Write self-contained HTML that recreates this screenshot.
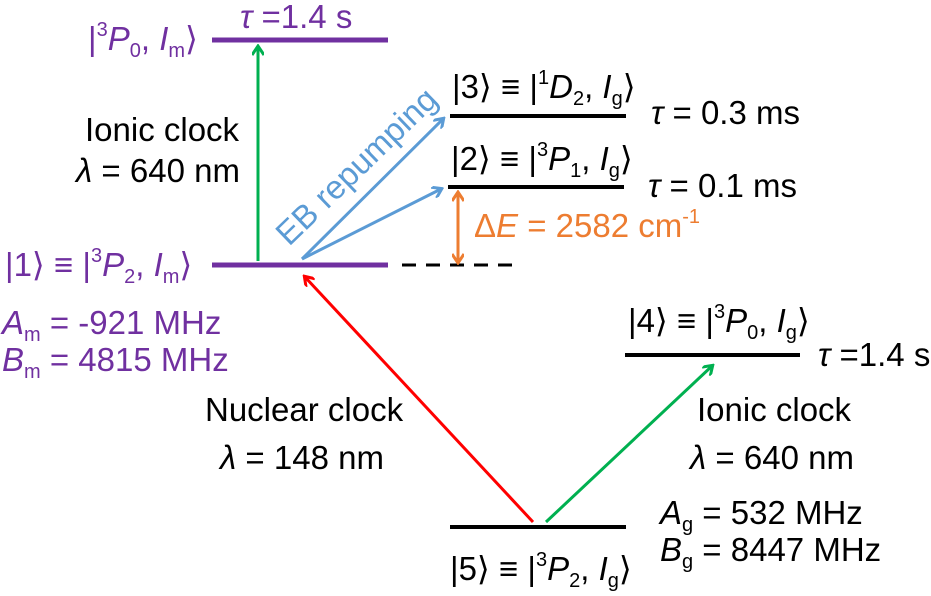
<!DOCTYPE html>
<html><head><meta charset="utf-8"><style>
html,body{margin:0;padding:0;background:#fff}
svg{display:block}
text{font-family:"Liberation Sans","DejaVu Sans",sans-serif;font-size:33px}
.p{fill:#7030a0}.k{fill:#000}.o{fill:#ed7d31}.b{fill:#5b9bd5}
.s{font-size:20px}
</style></head><body>
<svg width="931" height="596" viewBox="0 0 931 596" xmlns="http://www.w3.org/2000/svg">
<defs>
<marker id="ag" markerWidth="12" markerHeight="12" refX="9" refY="6" orient="auto" markerUnits="userSpaceOnUse"><path d="M1,0 L10,6 L1,12" fill="none" stroke="#00b050" stroke-width="3"/></marker>
<marker id="ab" markerWidth="12" markerHeight="12" refX="9" refY="6" orient="auto" markerUnits="userSpaceOnUse"><path d="M1,0 L10,6 L1,12" fill="none" stroke="#5b9bd5" stroke-width="3"/></marker>
<marker id="ar" markerWidth="12" markerHeight="12" refX="9" refY="6" orient="auto" markerUnits="userSpaceOnUse"><path d="M1,0 L10,6 L1,12" fill="none" stroke="#ff0000" stroke-width="3"/></marker>
<marker id="ao" markerWidth="12" markerHeight="12" refX="9" refY="6" orient="auto-start-reverse" markerUnits="userSpaceOnUse"><path d="M1,0 L10,6 L1,12" fill="none" stroke="#ed7d31" stroke-width="3"/></marker>
</defs>
<line x1="212" y1="40" x2="388" y2="40" stroke="#7030a0" stroke-width="5"/>
<line x1="212" y1="265" x2="388" y2="265" stroke="#7030a0" stroke-width="5"/>
<line x1="402" y1="265" x2="512" y2="265" stroke="#000" stroke-width="3" stroke-dasharray="14,10"/>
<line x1="450" y1="116" x2="626" y2="116" stroke="#000" stroke-width="4"/>
<line x1="448" y1="187" x2="624" y2="187" stroke="#000" stroke-width="4"/>
<line x1="625" y1="355" x2="800" y2="355" stroke="#000" stroke-width="4"/>
<line x1="450" y1="527" x2="626" y2="527" stroke="#000" stroke-width="4"/>
<line x1="258" y1="261" x2="258" y2="47" stroke="#00b050" stroke-width="3" marker-end="url(#ag)"/>
<line x1="302" y1="259" x2="443" y2="119" stroke="#5b9bd5" stroke-width="3" marker-end="url(#ab)"/>
<line x1="302" y1="259" x2="441" y2="189" stroke="#5b9bd5" stroke-width="3" marker-end="url(#ab)"/>
<line x1="458" y1="193" x2="458" y2="262" stroke="#ed7d31" stroke-width="3" marker-start="url(#ao)" marker-end="url(#ao)"/>
<line x1="533" y1="522" x2="305" y2="277" stroke="#ff0000" stroke-width="3" marker-end="url(#ar)"/>
<line x1="546" y1="522" x2="712" y2="366" stroke="#00b050" stroke-width="3" marker-end="url(#ag)"/>
<text class="p" x="240" y="28"><tspan font-style="italic">τ</tspan> =1.4 s</text>
<text class="p" x="88" y="50">|<tspan class="s" dy="-14">3</tspan><tspan font-style="italic" dy="14">P</tspan><tspan class="s" dy="7">0</tspan><tspan dy="-7">, </tspan><tspan font-style="italic">I</tspan><tspan class="s" dy="7">m</tspan><tspan dy="-7">⟩</tspan></text>
<text class="k" x="85" y="141">Ionic clock</text>
<text class="k" x="76" y="182"><tspan font-style="italic">λ</tspan> = 640 nm</text>
<text class="p" x="5" y="276">|1⟩ ≡ |<tspan class="s" dy="-14">3</tspan><tspan font-style="italic" dy="14">P</tspan><tspan class="s" dy="7">2</tspan><tspan dy="-7">, </tspan><tspan font-style="italic">I</tspan><tspan class="s" dy="7">m</tspan><tspan dy="-7">⟩</tspan></text>
<text class="p" x="2" y="334"><tspan font-style="italic">A</tspan><tspan class="s" dy="7">m</tspan><tspan dy="-7"> = -921 MHz</tspan></text>
<text class="p" x="2" y="371"><tspan font-style="italic">B</tspan><tspan class="s" dy="7">m</tspan><tspan dy="-7"> = 4815 MHz</tspan></text>
<text class="b" x="0" y="0" transform="translate(289,247) rotate(-44)">EB repumping</text>
<text class="k" x="452" y="98">|3⟩ ≡ |<tspan class="s" dy="-14">1</tspan><tspan font-style="italic" dy="14">D</tspan><tspan class="s" dy="7">2</tspan><tspan dy="-7">, </tspan><tspan font-style="italic">I</tspan><tspan class="s" dy="7">g</tspan><tspan dy="-7">⟩</tspan></text>
<text class="k" x="651" y="124"><tspan font-style="italic">τ</tspan> = 0.3 ms</text>
<text class="k" x="451" y="170">|2⟩ ≡ |<tspan class="s" dy="-14">3</tspan><tspan font-style="italic" dy="14">P</tspan><tspan class="s" dy="7">1</tspan><tspan dy="-7">, </tspan><tspan font-style="italic">I</tspan><tspan class="s" dy="7">g</tspan><tspan dy="-7">⟩</tspan></text>
<text class="k" x="648" y="197"><tspan font-style="italic">τ</tspan> = 0.1 ms</text>
<text class="o" x="474" y="237">Δ<tspan font-style="italic">E</tspan> = 2582 cm<tspan class="s" dy="-14">-1</tspan></text>
<text class="k" x="628" y="332">|4⟩ ≡ |<tspan class="s" dy="-14">3</tspan><tspan font-style="italic" dy="14">P</tspan><tspan class="s" dy="7">0</tspan><tspan dy="-7">, </tspan><tspan font-style="italic">I</tspan><tspan class="s" dy="7">g</tspan><tspan dy="-7">⟩</tspan></text>
<text class="k" x="818" y="366"><tspan font-style="italic">τ</tspan> =1.4 s</text>
<text class="k" x="205" y="421">Nuclear clock</text>
<text class="k" x="220" y="469"><tspan font-style="italic">λ</tspan> = 148 nm</text>
<text class="k" x="697" y="421">Ionic clock</text>
<text class="k" x="690" y="469"><tspan font-style="italic">λ</tspan> = 640 nm</text>
<text class="k" x="660" y="524"><tspan font-style="italic">A</tspan><tspan class="s" dy="7">g</tspan><tspan dy="-7"> = 532 MHz</tspan></text>
<text class="k" x="660" y="561"><tspan font-style="italic">B</tspan><tspan class="s" dy="7">g</tspan><tspan dy="-7"> = 8447 MHz</tspan></text>
<text class="k" x="450" y="580">|5⟩ ≡ |<tspan class="s" dy="-14">3</tspan><tspan font-style="italic" dy="14">P</tspan><tspan class="s" dy="7">2</tspan><tspan dy="-7">, </tspan><tspan font-style="italic">I</tspan><tspan class="s" dy="7">g</tspan><tspan dy="-7">⟩</tspan></text>
</svg>
</body></html>
